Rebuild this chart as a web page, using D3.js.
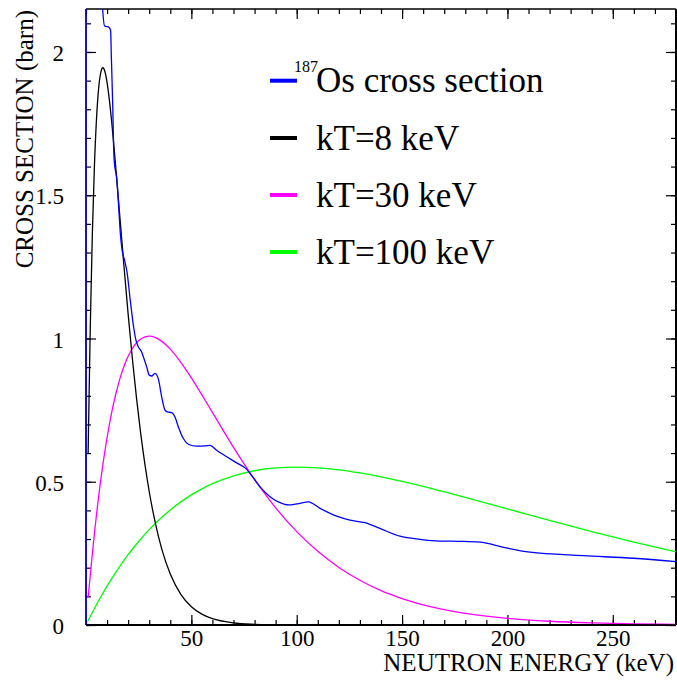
<!DOCTYPE html>
<html>
<head>
<meta charset="utf-8">
<script src="https://cdn.jsdelivr.net/npm/d3@7"></script>
<style>
  body { margin: 0; background: #fff; }
  svg { display: block; }
  text { font-family: "Liberation Serif", "Times New Roman", Times, serif; fill: #000; }
</style>
</head>
<body>
<svg id="chart" width="677" height="680"></svg>
<script>
// 187Os capture cross section (keV, barn)
const osEnergy = [0, 0.05, 7.0, 7.9, 8.9, 10.8, 11.7, 12.0, 12.7, 13.1, 13.4, 14.7, 15.5, 16.3, 17.1, 18.4, 19.5,
  21.0, 22.6, 23.7, 24.8, 26.4, 27.2, 28.8, 30.0, 31.2, 32.7, 34.3, 35.9, 37.5, 38.6, 40.7, 42.2, 43.8,
  46.2, 48.6, 52.5, 56.5, 58.9, 62.0, 66.8, 71.5, 76.3, 77.8, 82.6, 87.3, 92.1, 96.0, 100.8, 105.5,
  111.1, 119.0, 125.3, 132.4, 139.5, 149.0, 158.5, 168.0, 177.5, 187.0, 198.1, 210.7, 236.0, 259.8, 280];
const osSigma = [0, 40, 2.6, 2.15, 2.09, 2.087, 2.075, 1.99, 1.81, 1.67, 1.62, 1.55, 1.46, 1.367, 1.31, 1.27, 1.23,
  1.134, 1.04, 0.994, 0.971, 0.953, 0.936, 0.901, 0.872, 0.869, 0.878, 0.860, 0.797, 0.750, 0.744, 0.741, 0.727, 0.692,
  0.651, 0.631, 0.624, 0.625, 0.627, 0.610, 0.587, 0.566, 0.543, 0.529, 0.482, 0.448, 0.427, 0.419, 0.424, 0.430,
  0.407, 0.380, 0.366, 0.357, 0.337, 0.310, 0.299, 0.293, 0.292, 0.289, 0.271, 0.254, 0.242, 0.233, 0.221];

// Maxwell-Boltzmann neutron spectra (arbitrary scale) on a shared energy grid
const mbEnergy = [1, 2, 3, 4, 5, 6, 7, 8, 9, 10, 11, 12, 14, 16, 18, 20, 22, 24, 26, 28, 30, 33, 36, 40, 45, 50,
  55, 60, 70, 80, 90, 100, 110, 120, 130, 140, 150, 165, 180, 200, 220, 240, 260, 280];
const mbKT8 = [0.60, 1.029, 1.363, 1.603, 1.769, 1.873, 1.928, 1.945, 1.931, 1.893, 1.838, 1.770, 1.608, 1.431,
  1.254, 1.085, 0.930, 0.790, 0.666, 0.559, 0.466, 0.353, 0.264, 0.178, 0.107, 0.064, 0.038, 0.022, 0.0073, 0.0024,
  0.0008, 0.0002, 0.0001, 0, 0, 0, 0, 0, 0, 0, 0, 0, 0, 0];
const mbKT30 = [0.095, 0.171, 0.2479, 0.320, 0.3866, 0.449, 0.5063, 0.560, 0.609, 0.654, 0.6963, 0.735, 0.8018,
  0.8573, 0.902, 0.9378, 0.9651, 0.985, 0.9982, 1.0057, 1.008, 1.003, 0.990, 0.963, 0.917, 0.8625, 0.803, 0.742,
  0.620, 0.508, 0.409, 0.326, 0.257, 0.201, 0.156, 0.120, 0.0923, 0.0616, 0.0408, 0.0232, 0.0131, 0.0074, 0.0041, 0.0023];
const mbKT100 = [0.0148, 0.0294, 0.0436, 0.0576, 0.0712, 0.0846, 0.0978, 0.1106, 0.1232, 0.1355, 0.1476, 0.1594,
  0.1823, 0.2042, 0.2252, 0.2453, 0.2644, 0.2828, 0.3003, 0.3170, 0.3329, 0.3553, 0.3762, 0.4016, 0.4298, 0.4542,
  0.4753, 0.4932, 0.5207, 0.5384, 0.5481, 0.5510, 0.5484, 0.5414, 0.5306, 0.5171, 0.5013, 0.4746, 0.4456, 0.4054,
  0.3651, 0.3261, 0.2892, 0.2550];

const xMajorTicks = [50, 100, 150, 200, 250];
const xMinorTicks = [0, 10, 20, 30, 40, 50, 60, 70, 80, 90, 100, 110, 120, 130, 140, 150, 160, 170, 180, 190, 200,
  210, 220, 230, 240, 250, 260, 270, 280];
const yMajorTicks = [0, 0.5, 1, 1.5, 2];
const yMinorTicks = [0, 0.1, 0.2, 0.3, 0.4, 0.5, 0.6, 0.7, 0.8, 0.9, 1.0, 1.1, 1.2, 1.3, 1.4, 1.5, 1.6, 1.7, 1.8, 1.9, 2.0, 2.1];

const legendLabels = ["Os cross section", "kT=8 keV", "kT=30 keV", "kT=100 keV"];
const legendColors = ["#0000ff", "#000000", "#ff00ff", "#00ff00"];

const svg = d3.select("#chart");
const plotLeft = 86, plotRight = 676, plotTop = 9, plotBottom = 625;

const x = d3.scaleLinear().domain([0, 280]).range([plotLeft, plotRight]);
const y = d3.scaleLinear().domain([0, 2.15]).range([plotBottom, plotTop]);

// clip curves to the frame (a pixel of slack on the left keeps the edge stroke whole)
svg.append("defs").append("clipPath").attr("id", "plotClip")
  .append("rect").attr("x", plotLeft - 1.2).attr("y", plotTop)
  .attr("width", plotRight - plotLeft + 1.2).attr("height", plotBottom - plotTop);

const fontTick = 23;

function styleAxis(g) {
  g.select(".domain").remove();
  g.selectAll(".tick line").attr("stroke", "#000").attr("stroke-width", 1.2);
}

// minor ticks on all four sides, pointing inward
svg.append("g").attr("transform", `translate(0,${plotBottom})`)
  .call(d3.axisBottom(x).tickValues(xMinorTicks).tickSizeInner(-5).tickSizeOuter(0).tickFormat(""))
  .call(styleAxis);
svg.append("g").attr("transform", `translate(0,${plotTop})`)
  .call(d3.axisTop(x).tickValues(xMinorTicks).tickSizeInner(-5).tickSizeOuter(0).tickFormat(""))
  .call(styleAxis);
svg.append("g").attr("transform", `translate(${plotLeft},0)`)
  .call(d3.axisLeft(y).tickValues(yMinorTicks).tickSizeInner(-5).tickSizeOuter(0).tickFormat(""))
  .call(styleAxis);
svg.append("g").attr("transform", `translate(${plotRight},0)`)
  .call(d3.axisRight(y).tickValues(yMinorTicks).tickSizeInner(-5).tickSizeOuter(0).tickFormat(""))
  .call(styleAxis);

// major ticks, labelled on bottom and left
const xAxis = svg.append("g").attr("transform", `translate(0,${plotBottom})`)
  .call(d3.axisBottom(x).tickValues(xMajorTicks).tickSizeInner(-10).tickSizeOuter(0).tickPadding(5).tickFormat(d3.format("d")))
  .call(styleAxis);
xAxis.selectAll("text").attr("font-size", fontTick).attr("font-family", "Liberation Serif").attr("fill", "#000");
svg.append("g").attr("transform", `translate(0,${plotTop})`)
  .call(d3.axisTop(x).tickValues(xMajorTicks).tickSizeInner(-10).tickSizeOuter(0).tickFormat(""))
  .call(styleAxis);

const yAxis = svg.append("g").attr("transform", `translate(${plotLeft},0)`)
  .call(d3.axisLeft(y).tickValues(yMajorTicks).tickSizeInner(-10).tickSizeOuter(0).tickPadding(22).tickFormat(d => String(d)))
  .call(styleAxis);
yAxis.selectAll("text").attr("font-size", fontTick).attr("font-family", "Liberation Serif").attr("fill", "#000").attr("dy", "0.38em");
svg.append("g").attr("transform", `translate(${plotRight},0)`)
  .call(d3.axisRight(y).tickValues(yMajorTicks).tickSizeInner(-10).tickSizeOuter(0).tickFormat(""))
  .call(styleAxis);

// frame
const frame = svg.append("g").attr("stroke", "#000");
frame.append("line").attr("x1", plotLeft).attr("x2", plotRight).attr("y1", plotTop).attr("y2", plotTop).attr("stroke-width", 1.5);
frame.append("line").attr("x1", plotLeft).attr("x2", plotRight).attr("y1", plotBottom).attr("y2", plotBottom).attr("stroke-width", 2);
frame.append("line").attr("x1", plotLeft).attr("x2", plotLeft).attr("y1", plotTop).attr("y2", plotBottom).attr("stroke-width", 1.5);
frame.append("line").attr("x1", plotRight).attr("x2", plotRight).attr("y1", plotTop).attr("y2", plotBottom).attr("stroke-width", 2);

// curves
const line = d3.line().x(d => x(d[0])).y(d => y(d[1])).curve(d3.curveMonotoneX);
const plot = svg.append("g").attr("clip-path", "url(#plotClip)");
const series = [
  { e: mbEnergy, v: mbKT100, color: legendColors[3] },
  { e: mbEnergy, v: mbKT30, color: legendColors[2] },
  { e: mbEnergy, v: mbKT8, color: legendColors[1] },
  { e: osEnergy, v: osSigma, color: legendColors[0] }
];
series.forEach(s => {
  plot.append("path")
    .datum(s.e.map((e, i) => [e, s.v[i]]))
    .attr("fill", "none")
    .attr("stroke", s.color)
    .attr("stroke-width", 1.3)
    .attr("d", line);
});

// axis titles
svg.append("text")
  .attr("x", 674).attr("y", 671)
  .attr("text-anchor", "end").attr("font-size", 25)
  .text("NEUTRON ENERGY (keV)");
svg.append("text")
  .attr("transform", "translate(33,10) rotate(-90)")
  .attr("text-anchor", "end").attr("font-size", 25)
  .text("CROSS SECTION (barn)");

// legend
const legendY = [80.7, 138, 195, 252];
const legend = svg.append("g");
legendLabels.forEach((lab, i) => {
  legend.append("line")
    .attr("x1", 270).attr("x2", 297)
    .attr("y1", legendY[i]).attr("y2", legendY[i])
    .attr("stroke", legendColors[i]).attr("stroke-width", 4);
  legend.append("text")
    .attr("x", 316).attr("y", legendY[i] + 11.5)
    .attr("font-size", 35)
    .text(lab);
});
legend.append("text")
  .attr("x", 294).attr("y", 72)
  .attr("font-size", 16)
  .text("187");
</script>
</body>
</html>
